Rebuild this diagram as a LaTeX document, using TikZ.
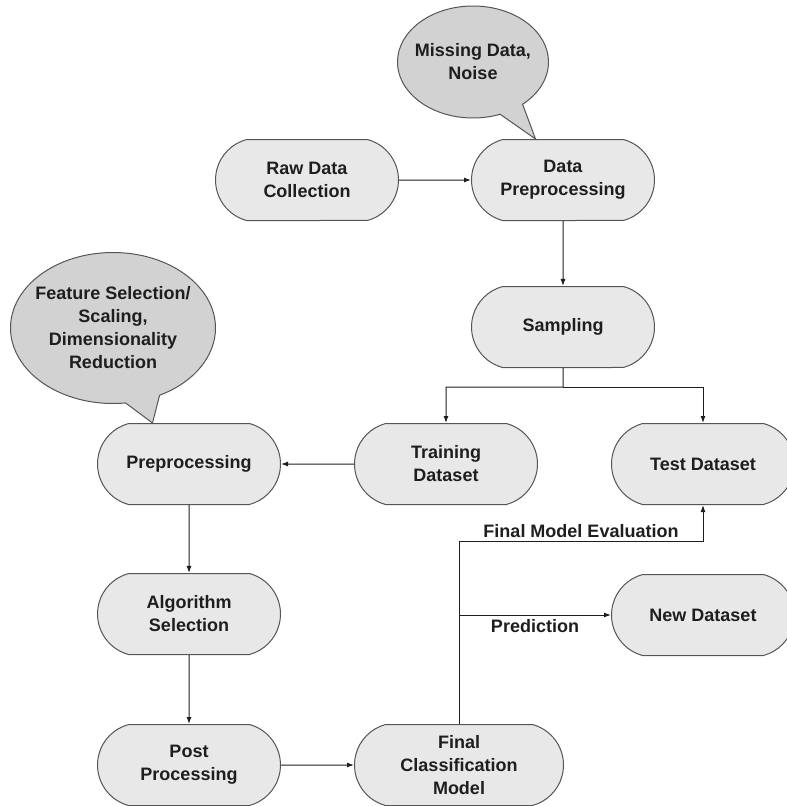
\documentclass[tikz,border=0pt]{standalone}
\usepackage{fontspec}
\setmainfont{Liberation Sans}
\usetikzlibrary{shapes.misc,shapes.callouts,arrows.meta,calc}

\definecolor{boxfill}{RGB}{232,232,232}
\definecolor{notefill}{RGB}{210,210,210}
\definecolor{edge}{RGB}{85,85,85}
\definecolor{ink}{RGB}{30,30,30}

\tikzset{
  stage/.style={rounded rectangle, rounded rectangle arc length=150, draw=edge, fill=boxfill,
    line width=1pt, minimum width=183pt, minimum height=81pt, inner sep=0pt, align=center},
  note/.style={ellipse callout, draw=edge, fill=notefill, line width=1pt,
    callout pointer arc=20, inner ysep=0pt, align=center},
  flow/.style={-{Latex[length=7pt,width=5pt]}, draw=ink, line width=1pt}
}

\begin{document}
\begin{tikzpicture}[x=1pt,y=-1pt,font=\fontsize{18}{23}\selectfont\bfseries,text=ink]
                \useasboundingbox (0,0) rectangle (787,806);
                \node[stage] (R) at (307,180) {Raw Data\\Collection};
                \node[stage] (D) at (563,180) {Data\\Preprocessing};
                \node[stage] (S) at (563,327) {Sampling};
                \node[stage] (T) at (446,464) {Training\\Dataset};
                \node[stage] (E) at (703,464) {Test Dataset};
                \node[stage] (P) at (189,464) {Preprocessing};
                \node[stage] (A) at (189,614) {Algorithm\\Selection};
                \node[stage] (Q) at (189,765) {Post\\Processing};
                \node[stage,minimum width=209pt] (F) at (459,765) {Final\\Classification\\Model};
                \node[stage] (N) at (703,615) {New Dataset};
                % callouts
                \node[note,inner xsep=-7pt,minimum width=151pt,minimum height=112pt,
                      callout absolute pointer={($(D.north west)+(33,0)$)}] (M) at (473,62) {Missing Data,\\Noise};
                \node[note,inner xsep=-12pt,minimum width=205pt,minimum height=151pt,
                      callout absolute pointer={($(P.north west)+(24,0)$)}] (C) at (113,328) {Feature Selection/\\Scaling,\\Dimensionality\\Reduction};
                \coordinate (J) at (563,387);
                \coordinate (K) at (459,541);
                \draw [flow] (R) -- (D);
                \draw [flow] (D) -- (S);
                \draw [flow] (S) -- (J) -| (T.north);
                \draw [flow] (J) -| (E.north);
                \draw [flow] (T) -- (P);
                \draw [flow] (P) -- (A);
                \draw [flow] (A) -- (Q);
                \draw [flow] (Q) -- (F);
                \draw [flow] (F.north) -- (K) -- node [above,inner sep=3pt] {Final Model Evaluation} (K -| E.south) -- (E.south);
                \draw [flow] (F.north |- N.west) -- node [below,inner sep=4pt] {Prediction} (N.west);
            \end{tikzpicture}
\end{document}
